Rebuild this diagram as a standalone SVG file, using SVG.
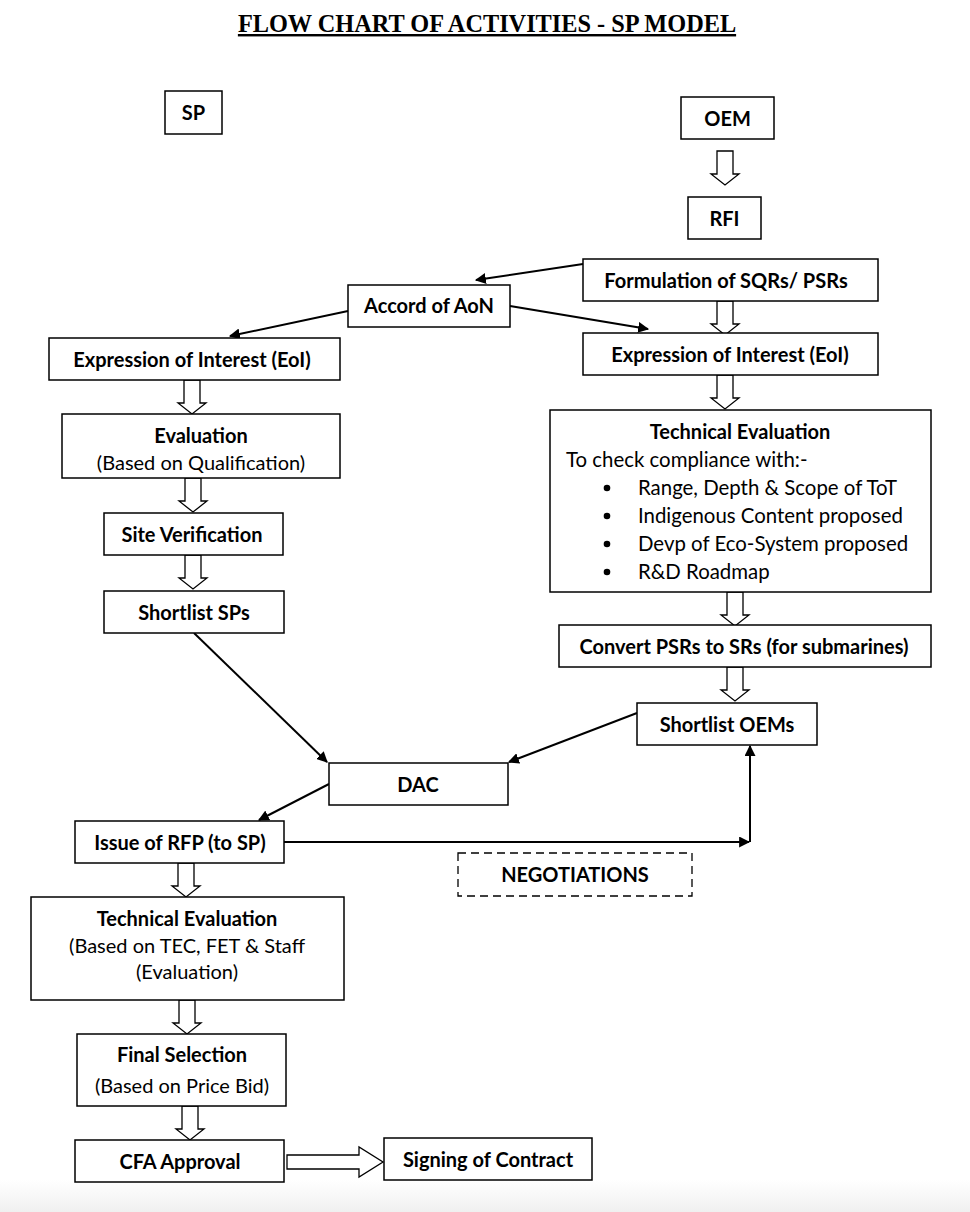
<svg xmlns="http://www.w3.org/2000/svg" width="970" height="1212" viewBox="0 0 970 1212">
<style>
.box{fill:#fff;stroke:#000;stroke-width:1.5}
.dash{fill:#fff;stroke:#000;stroke-width:1.3;stroke-dasharray:8,5}
.b{font-family:Lato,"Open Sans",sans-serif;font-weight:bold;font-size:20px;fill:#000;text-anchor:middle}
.n{font-family:Lato,"Open Sans",sans-serif;font-size:20px;fill:#000;text-anchor:middle}
.l{font-family:Lato,"Open Sans",sans-serif;font-size:20.4px;fill:#000}
.conn{stroke:#000;stroke-width:2;fill:none}
.hollow{fill:#fff;stroke:#000;stroke-width:1.3}
.title{font-family:"Liberation Serif",serif;font-weight:bold;font-size:24.3px;text-anchor:middle;text-decoration:underline}
</style>
<defs>
<marker id="ah" viewBox="0 0 10 10" refX="9" refY="5" markerWidth="5.5" markerHeight="5.5" orient="auto" markerUnits="strokeWidth">
<path d="M0,0 L10,5 L0,10 Z" fill="#000"/>
</marker>
<path id="down" d="M-8,0 H8 V23 H14 L0,34 L-14,23 H-8 Z"/>
<linearGradient id="bg" x1="0" y1="0" x2="0" y2="1">
<stop offset="0" stop-color="#fff"/>
<stop offset="1" stop-color="#f0f0f0"/>
</linearGradient>
</defs>
<rect x="0" y="0" width="970" height="1212" fill="#fff"/>
<rect x="0" y="1180" width="970" height="32" fill="url(#bg)"/>
<text class="title" x="487" y="32">FLOW CHART OF ACTIVITIES - SP MODEL</text>

<g id="connectors">
<line class="conn" x1="583" y1="264" x2="476" y2="280" marker-end="url(#ah)"/>
<line class="conn" x1="510" y1="306" x2="648" y2="329" marker-end="url(#ah)"/>
<line class="conn" x1="348" y1="311" x2="230" y2="336" marker-end="url(#ah)"/>
<line class="conn" x1="194" y1="633" x2="327" y2="762" marker-end="url(#ah)"/>
<line class="conn" x1="637" y1="713" x2="509" y2="762" marker-end="url(#ah)"/>
<line class="conn" x1="329" y1="784" x2="259" y2="820" marker-end="url(#ah)"/>
<line class="conn" x1="284" y1="842" x2="749" y2="842" marker-end="url(#ah)"/>
<line class="conn" x1="750" y1="842" x2="750" y2="746" marker-end="url(#ah)"/>
<use href="#down" class="hollow" x="725" y="151"/>
<use href="#down" class="hollow" x="725" y="301"/>
<use href="#down" class="hollow" x="725" y="375"/>
<use href="#down" class="hollow" x="735" y="592"/>
<use href="#down" class="hollow" x="735" y="667"/>
<use href="#down" class="hollow" x="192" y="380"/>
<use href="#down" class="hollow" x="193" y="478"/>
<use href="#down" class="hollow" x="193" y="555"/>
<use href="#down" class="hollow" x="186" y="863"/>
<use href="#down" class="hollow" x="187" y="1000"/>
<use href="#down" class="hollow" x="190" y="1106"/>
<path class="hollow" d="M287,1155 H359 V1147 L383,1162 L359,1177 V1169 H287 Z"/>
</g>

<g id="sp"><rect class="box" x="165" y="91" width="57" height="43"/><text class="b" x="193.5" y="120">SP</text></g>
<g id="oem"><rect class="box" x="681" y="97" width="93" height="42"/><text class="b" x="727.5" y="126">OEM</text></g>
<g id="rfi"><rect class="box" x="688" y="197" width="73" height="42"/><text class="b" x="724.5" y="226">RFI</text></g>
<g id="formulation"><rect class="box" x="583" y="259" width="295" height="42"/><text class="b" x="726" y="288">Formulation of SQRs/ PSRs</text></g>
<g id="accord"><rect class="box" x="348" y="285" width="162" height="42"/><text class="b" x="429" y="313">Accord of AoN</text></g>
<g id="eoi-oem"><rect class="box" x="583" y="333" width="295" height="42"/><text class="b" x="730" y="362">Expression of Interest (EoI)</text></g>
<g id="eoi-sp"><rect class="box" x="49" y="338" width="291" height="42"/><text class="b" x="192" y="367">Expression of Interest (EoI)</text></g>
<g id="evaluation"><rect class="box" x="62" y="414" width="278" height="64"/><text class="b" x="201" y="443">Evaluation</text><text class="n" x="201" y="470">(Based on Qualification)</text></g>
<g id="site"><rect class="box" x="104" y="513" width="179" height="42"/><text class="b" x="192" y="542">Site Verification</text></g>
<g id="shortlist-sp"><rect class="box" x="104" y="591" width="180" height="42"/><text class="b" x="194" y="620">Shortlist SPs</text></g>
<g id="tech-eval-oem"><rect class="box" x="550" y="410" width="381" height="182"/>
<text class="b" x="740" y="439">Technical Evaluation</text>
<text class="l" x="566" y="467">To check compliance with:-</text>
<circle cx="607" cy="488" r="3.3"/><text class="l" x="638" y="495">Range, Depth &amp; Scope of ToT</text>
<circle cx="607" cy="516" r="3.3"/><text class="l" x="638" y="523">Indigenous Content proposed</text>
<circle cx="607" cy="544" r="3.3"/><text class="l" x="638" y="551">Devp of Eco-System proposed</text>
<circle cx="607" cy="572" r="3.3"/><text class="l" x="638" y="579">R&amp;D Roadmap</text>
</g>
<g id="convert"><rect class="box" x="559" y="625" width="372" height="42"/><text class="b" x="744" y="654">Convert PSRs to SRs (for submarines)</text></g>
<g id="shortlist-oem"><rect class="box" x="637" y="703" width="180" height="42"/><text class="b" x="727" y="732">Shortlist OEMs</text></g>
<g id="dac"><rect class="box" x="329" y="763" width="179" height="42"/><text class="b" x="418" y="792">DAC</text></g>
<g id="rfp"><rect class="box" x="75" y="821" width="209" height="42"/><text class="b" x="180" y="850">Issue of RFP (to SP)</text></g>
<g id="negotiations"><rect class="dash" x="458" y="853" width="234" height="43"/><text class="b" x="575" y="882">NEGOTIATIONS</text></g>
<g id="tech-eval-sp"><rect class="box" x="31" y="897" width="313" height="103"/>
<text class="b" x="187" y="926">Technical Evaluation</text>
<text class="n" x="187" y="953">(Based on TEC, FET &amp; Staff</text>
<text class="n" x="187" y="979">(Evaluation)</text></g>
<g id="final"><rect class="box" x="77" y="1034" width="209" height="72"/>
<text class="b" x="182" y="1062">Final Selection</text>
<text class="n" x="182" y="1093">(Based on Price Bid)</text></g>
<g id="cfa"><rect class="box" x="75" y="1140" width="209" height="42"/><text class="b" x="180" y="1169">CFA Approval</text></g>
<g id="signing"><rect class="box" x="384" y="1138" width="208" height="42"/><text class="b" x="488" y="1167">Signing of Contract</text></g>
</svg>
